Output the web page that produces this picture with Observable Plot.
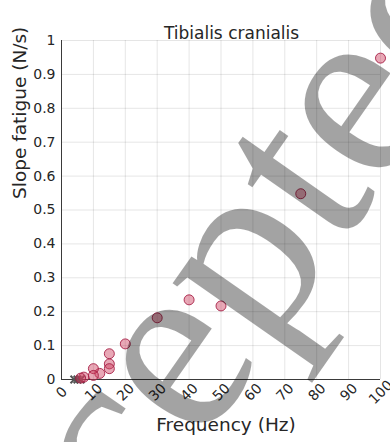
<!DOCTYPE html>
<html><head><meta charset="utf-8">
<script src="https://cdn.jsdelivr.net/npm/d3@7"></script>
<script src="https://cdn.jsdelivr.net/npm/@observablehq/plot@0.6"></script>
<style>html,body{margin:0;padding:0;background:#fff;}</style>
</head><body><div id="chart"></div>
<script>
const title = "Tibialis cranialis";
const xLabel = "Frequency (Hz)";
const yLabel = "Slope fatigue (N/s)";
const xTicks = [0, 10, 20, 30, 40, 50, 60, 70, 80, 90, 100];
const xTickLabels = ["0", "10", "20", "30", "40", "50", "60", "70", "80", "90", "100"];
const yTicks = [0, 0.1, 0.2, 0.3, 0.4, 0.5, 0.6, 0.7, 0.8, 0.9, 1];
const yTickLabels = ["0", "0.1", "0.2", "0.3", "0.4", "0.5", "0.6", "0.7", "0.8", "0.9", "1"];
// stimulated muscle points (circles)
const freq  = [100, 75, 50, 40, 30, 20, 15, 15, 15, 12, 10, 10, 7, 6];
const slope = [0.948, 0.548, 0.217, 0.235, 0.182, 0.105, 0.076, 0.046, 0.032, 0.018, 0.032, 0.012, 0.007, 0.004];
// control points (crosses)
const ctrlFreq  = [4, 5, 6];
const ctrlSlope = [0, 0, 0];
// overlaid watermark
const watermark = "Accepted";
const watermarkAt = [{f: 35.3, s: 0.108}];

const pts = freq.map((f, i) => ({f, s: slope[i]}));
const ctrl = ctrlFreq.map((f, i) => ({f, s: ctrlSlope[i]}));
const xt = xTicks.map((v, i) => ({v, label: xTickLabels[i]}));
const txt = "#262626";

const chart = Plot.plot({
  width: 390, height: 442,
  marginLeft: 61, marginRight: 10, marginTop: 40, marginBottom: 63,
  style: {fontFamily: "DejaVu Sans", fontSize: "14px", color: txt, background: "#fff", overflow: "hidden"},
  x: {domain: [0, 100], axis: null},
  y: {domain: [0, 1], axis: null},
  marks: [
    Plot.gridX(xTicks, {stroke: "#000", strokeOpacity: 0.1}),
    Plot.gridY(yTicks, {stroke: "#000", strokeOpacity: 0.1}),
    Plot.ruleY([0], {stroke: "#3a3a3a"}),
    Plot.ruleX([0], {stroke: "#3a3a3a"}),
    Plot.axisY(yTicks, {tickSize: 0, tickPadding: 6, tickFormat: (d, i) => yTickLabels[i], fontSize: 14, fill: txt, label: null}),
    Plot.text(xt, {x: "v", text: "label", frameAnchor: "bottom", dx: 3.5, dy: 16, rotate: -45, textAnchor: "middle", fontSize: 14, fill: txt}),
    Plot.dot(ctrl, {x: "f", y: "s", symbol: "times", r: 3.5, stroke: "#555", strokeWidth: 2}),
    Plot.dot(pts, {x: "f", y: "s", r: 5, fill: "#cc3d5e", fillOpacity: 0.45, stroke: "#a3173f", strokeOpacity: 0.85, strokeWidth: 1}),
    Plot.text([title], {frameAnchor: "top", dx: 10.5, dy: -14, fontSize: 17, fill: txt}),
    Plot.text([xLabel], {frameAnchor: "bottom", dx: 5, dy: 51, fontSize: 18.5, fill: txt}),
    Plot.text([yLabel], {frameAnchor: "left", dx: -41, dy: -11, rotate: -90, fontSize: 18.5, fill: txt}),
    Plot.text(watermarkAt, {x: "f", y: "s", text: () => watermark, rotate: -55, fontSize: 255, fontFamily: "Liberation Serif", fill: "#000", fillOpacity: 0.36, textAnchor: "middle"})
  ]
});
document.getElementById("chart").appendChild(chart);
</script>
</body></html>
